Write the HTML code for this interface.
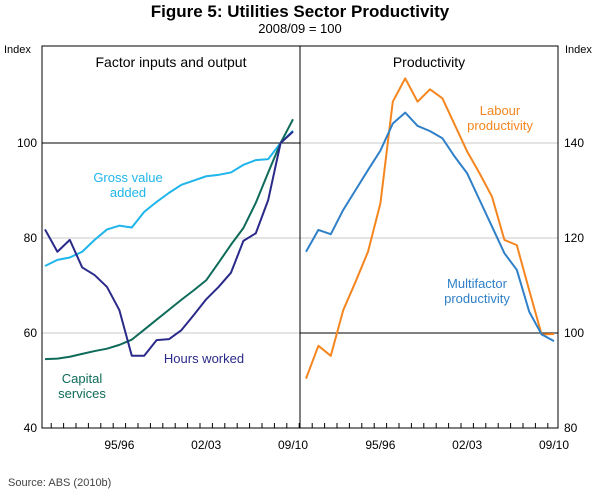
<!DOCTYPE html>
<html><head><meta charset="utf-8"><style>
body{margin:0;background:#fff;width:600px;height:494px;overflow:hidden;font-family:"Liberation Sans",sans-serif}
</style></head><body>
<svg width="600" height="494" xmlns="http://www.w3.org/2000/svg" font-family="Liberation Sans, sans-serif">
<text x="300" y="17" text-anchor="middle" font-size="17" font-weight="bold">Figure 5: Utilities Sector Productivity</text>
<text x="300" y="33" text-anchor="middle" font-size="13">2008/09 = 100</text>
<text x="4" y="53" font-size="11">Index</text>
<text x="565" y="53" font-size="11">Index</text>
<g id="grid"></g>
<g id="lines"></g>
<rect x="42" y="46" width="516" height="382" fill="none" stroke="#000" stroke-width="1"/>
<line x1="300" y1="46" x2="300" y2="428" stroke="#000"/>
<text x="171" y="67" text-anchor="middle" font-size="14">Factor inputs and output</text>
<text x="429" y="67" text-anchor="middle" font-size="14">Productivity</text>
<text x="128" y="182" text-anchor="middle" font-size="13" fill="#1fb5ea"><tspan x="128">Gross value</tspan><tspan x="128" dy="15">added</tspan></text>
<text x="204" y="363" text-anchor="middle" font-size="13" fill="#2a2a8a">Hours worked</text>
<text x="82" y="383" text-anchor="middle" font-size="13" fill="#0e6b5a"><tspan x="82">Capital</tspan><tspan x="82" dy="15">services</tspan></text>
<text x="500" y="115" text-anchor="middle" font-size="13" fill="#f5861f"><tspan x="500">Labour</tspan><tspan x="500" dy="15">productivity</tspan></text>
<text x="477" y="288" text-anchor="middle" font-size="13" fill="#2f80c8"><tspan x="477">Multifactor</tspan><tspan x="477" dy="15">productivity</tspan></text>
<text x="8" y="486" font-size="11" fill="#444">Source:  ABS (2010b)</text>
</svg>
<script>
const years=["89/90","90/91","91/92","92/93","93/94","94/95","95/96","96/97","97/98","98/99","99/00","00/01","01/02","02/03","03/04","04/05","05/06","06/07","07/08","08/09","09/10"];
const xLabels=["95/96","02/03","09/10"];
const leftTicks=[40,60,80,100];
const rightTicks=[80,100,120,140];
const hoursWorked=[81.8,77.1,79.6,73.8,72.2,69.7,64.8,55.2,55.2,58.5,58.7,60.6,63.8,67.1,69.7,72.7,79.4,81.0,88.0,100,102.4];
const grossValueAdded=[74.1,75.4,75.9,77.1,79.6,81.8,82.6,82.2,85.5,87.6,89.5,91.2,92.1,93.0,93.3,93.8,95.4,96.4,96.6,100,102.6];
const capitalServices=[54.5,54.6,55.0,55.6,56.2,56.7,57.5,58.6,60.7,62.8,64.9,67.0,69.0,71.1,74.8,78.6,82.1,87.4,93.8,100,105];
const multifactor=[117.1,121.7,120.8,125.9,130.1,134.3,138.4,144.1,146.4,143.6,142.5,141.0,137.1,133.6,128.0,122.4,116.8,113.3,104.5,99.7,98.3];
const labour=[90.4,97.3,95.2,104.8,110.8,117.1,127.3,148.7,153.6,148.7,151.3,149.4,143.8,138.2,133.6,128.7,119.6,118.5,109.0,99.7,99.8];

const NS="http://www.w3.org/2000/svg";
const xL=i=>45+i*12.4, xR=i=>306+i*12.4;
const yL=v=>428-(v-40)*95/20, yR=v=>428-(v-80)*95/20;
const grid=document.getElementById('grid'), lines=document.getElementById('lines'), svg=document.querySelector('svg');
function mk(t,a,p){const e=document.createElementNS(NS,t);for(const k in a)e.setAttribute(k,a[k]);(p||svg).appendChild(e);return e;}
leftTicks.forEach(v=>{
  if(v>40){const l=mk('line',{x1:42,x2:300,y1:yL(v),y2:yL(v),stroke:v===100?'#000':'#c8c8c8'},grid);
  
  }
  const t=mk('text',{x:37,y:yL(v)+4,'text-anchor':'end','font-size':12});t.textContent=v;
  
  
});
rightTicks.forEach(v=>{
  if(v>80){const l=mk('line',{x1:300,x2:558,y1:yR(v),y2:yR(v),stroke:v===100?'#000':'#c8c8c8'},grid);
  
  }
  const t=mk('text',{x:564,y:yR(v)+4,'font-size':12});t.textContent=v;
  
  
});
for(let i=0;i<years.length;i++){
  [xL,xR].forEach((f,p)=>{const x=f(i)+6.2;if(x<(p?558:300)){const l=mk('line',{x1:x,x2:x,y1:423,y2:428,stroke:'#000'});
  
  }});
}
xLabels.forEach(lab=>{const i=years.indexOf(lab);[xL,xR].forEach(f=>{
  const t=mk('text',{x:f(i),y:449,'text-anchor':'middle','font-size':12});t.textContent=lab;
  
  });});
function series(data,fx,fy,color,name){
  const p=mk('polyline',{points:data.map((v,i)=>fx(i)+','+fy(v)).join(' '),fill:'none',stroke:color,'stroke-width':2,'stroke-linejoin':'round'},lines);
  
  
}
series(grossValueAdded,xL,yL,'#1fb5ea','line-gross-value-added');
series(capitalServices,xL,yL,'#0e6b5a','line-capital-services');
series(hoursWorked,xL,yL,'#2a2a8a','line-hours-worked');
series(labour,xR,yR,'#f5861f','line-labour-productivity');
series(multifactor,xR,yR,'#2f80c8','line-multifactor-productivity');
</script>
</body></html>
